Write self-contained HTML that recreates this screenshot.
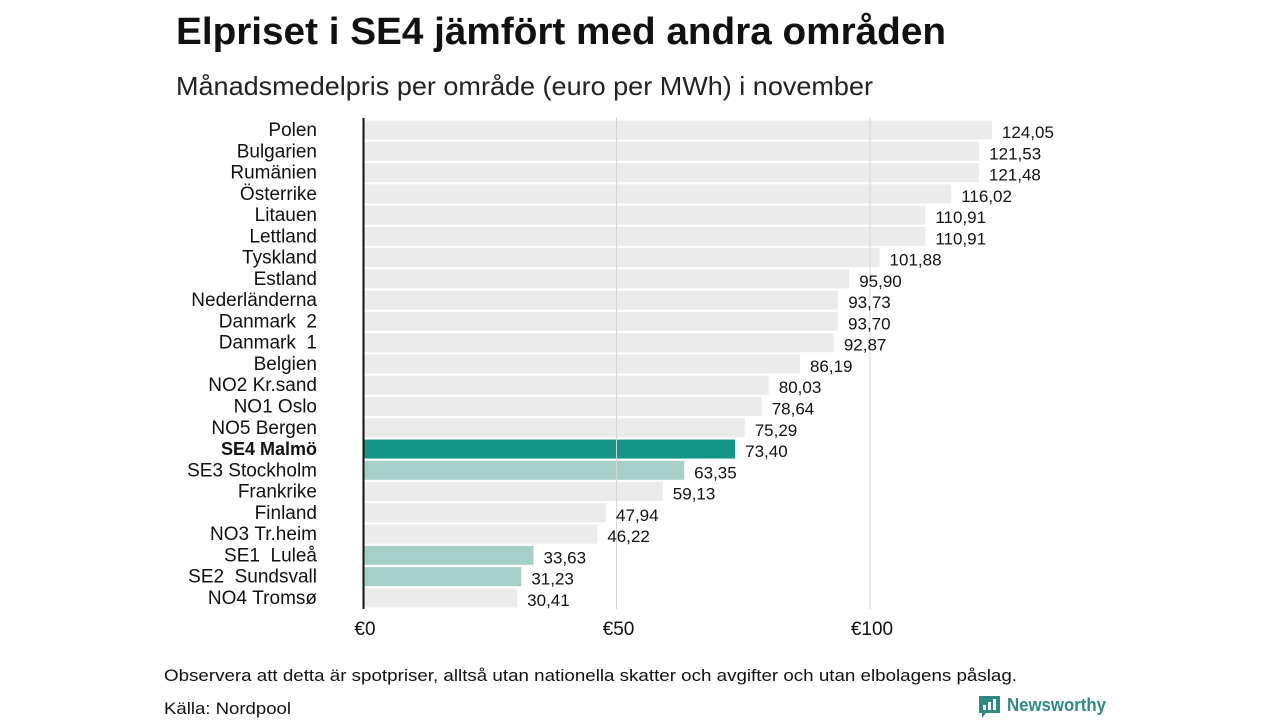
<!DOCTYPE html>
<html><head><meta charset="utf-8"><style>
body{margin:0;background:#fff;font-family:"Liberation Sans","DejaVu Sans",sans-serif;}
</style></head><body>
<svg width="1280" height="720" xmlns="http://www.w3.org/2000/svg">
<text x="176" y="44" font-size="38" font-weight="bold" fill="#111" textLength="770" lengthAdjust="spacingAndGlyphs">Elpriset i SE4 jämfört med andra områden</text>
<text x="176" y="95" font-size="26" fill="#222" textLength="697" lengthAdjust="spacingAndGlyphs">Månadsmedelpris per område (euro per MWh) i november</text>
<g id="bars"></g>
<g id="grid"></g>
<g id="labels"></g>
<line x1="363.5" y1="118" x2="363.5" y2="609" stroke="#111" stroke-width="2"/>
<g id="xticks"></g>
<text x="164" y="681" font-size="17" fill="#111" textLength="853" lengthAdjust="spacingAndGlyphs">Observera att detta är spotpriser, alltså utan nationella skatter och avgifter och utan elbolagens påslag.</text>
<text x="164" y="714" font-size="17" fill="#111" textLength="127" lengthAdjust="spacingAndGlyphs">Källa: Nordpool</text>
<g>
<path d="M979 696h21v17h-14l-4 5v-5h-3z" fill="#2e8b84"/>
<rect x="983" y="705" width="3" height="5" fill="#fff"/><rect x="988" y="702" width="3" height="8" fill="#fff"/><rect x="993" y="699" width="3" height="11" fill="#fff"/>
<text x="1007" y="711" font-size="18" font-weight="bold" fill="#2e8b84" textLength="99" lengthAdjust="spacingAndGlyphs">Newsworthy</text>
</g>
</svg>
<script>
const categories=["Polen","Bulgarien","Rumänien","Österrike","Litauen","Lettland","Tyskland","Estland","Nederländerna","Danmark  2","Danmark  1","Belgien","NO2 Kr.sand","NO1 Oslo","NO5 Bergen","SE4 Malmö","SE3 Stockholm","Frankrike","Finland","NO3 Tr.heim","SE1  Luleå","SE2  Sundsvall","NO4 Tromsø"];
const values=[124.05,121.53,121.48,116.02,110.91,110.91,101.88,95.90,93.73,93.70,92.87,86.19,80.03,78.64,75.29,73.40,63.35,59.13,47.94,46.22,33.63,31.23,30.41];
const xTicks=[0,50,100];
const xTickLabels=["€0","€50","€100"];
const ns="http://www.w3.org/2000/svg";
const x=v=>363+v*5.07;
const yc=i=>130+i*21.27;
function mk(t,a,p){const e=document.createElementNS(ns,t);for(const k in a)e.setAttribute(k,a[k]);document.getElementById(p).appendChild(e);return e;}
categories.forEach((c,i)=>{
  const col=c==="SE4 Malmö"?"#149587":(/^SE[123]/.test(c)?"#a6cfc8":"#ebebeb");
  const r=mk("rect",{x:364,y:yc(i)-9.5,width:x(values[i])-364,height:19,fill:col},"bars");
  
  
  const bold=c==="SE4 Malmö";
  const t=mk("text",{x:317,y:yc(i)+6,"text-anchor":"end","font-size":bold?18:19,"font-weight":bold?"bold":"normal",fill:"#111"},"labels");
  t.textContent=c.replace(/ /g,"\u00a0");
  
  
  const v=mk("text",{x:x(values[i])+10,y:yc(i)+8,"font-size":17,fill:"#111"},"labels");
  v.textContent=values[i].toFixed(2).replace(".",",");
  
  
});
xTicks.forEach((t,i)=>{
  if(t>0){const g=mk("line",{x1:x(t),x2:x(t),y1:118,y2:609,stroke:"#d4d4d4","stroke-width":1},"grid");
  
  }
  const l=mk("text",{x:x(t)+2,y:635,"text-anchor":"middle","font-size":19,fill:"#111"},"xticks");
  l.textContent=xTickLabels[i];
  
  
});
</script>
</body></html>
